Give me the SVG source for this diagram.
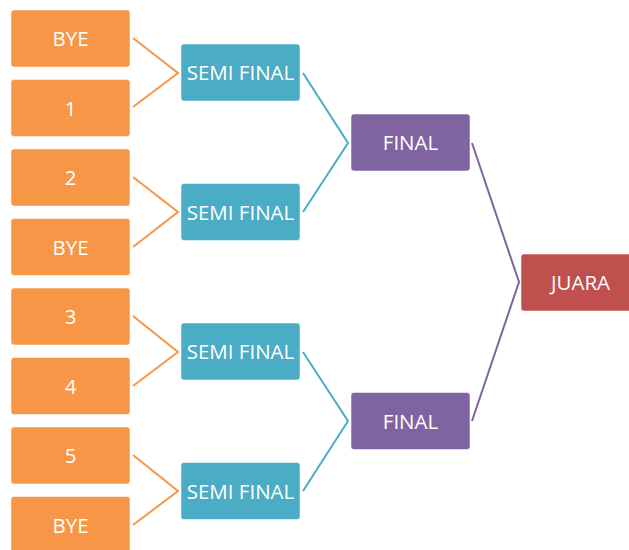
<svg xmlns="http://www.w3.org/2000/svg" width="629" height="550" viewBox="0 0 629 550">
<style>
.o{fill:#F79646}.b{fill:#4BACC6}.p{fill:#8064A2}.r{fill:#C0504D}
rect{stroke:#fff;stroke-opacity:0.5;stroke-width:1}
text{font-family:"Open Sans","Liberation Sans",sans-serif;font-size:20.5px;fill:#fff;text-anchor:middle}
.lo{stroke:#F79646}.lb{stroke:#4BACC6}.lp{stroke:#8064A2}
polyline{fill:none;stroke-width:2}
</style>
<rect width="629" height="550" fill="#fff" stroke="none"/>
<g id="connectors">
<polyline class="lo" points="133,38 178,73 133,107"/>
<polyline class="lo" points="133,177 178,212 133,247"/>
<polyline class="lo" points="133,316 178,352 133,386"/>
<polyline class="lo" points="133,455 178,491 133,525"/>
<polyline class="lb" points="303,73 348,143 303,212"/>
<polyline class="lb" points="303,352 348,421 303,491"/>
<polyline class="lp" points="472,143 519,282 472,421"/>
</g>
<g id="p1"><rect class="o" x="11" y="10" width="119" height="57" rx="3"/><text x="70.5" y="46">BYE</text></g>
<g id="p2"><rect class="o" x="11" y="79.5" width="119" height="57" rx="3"/><text x="70.5" y="115.5">1</text></g>
<g id="p3"><rect class="o" x="11" y="149" width="119" height="57" rx="3"/><text x="70.5" y="185">2</text></g>
<g id="p4"><rect class="o" x="11" y="218.5" width="119" height="57" rx="3"/><text x="70.5" y="254.5">BYE</text></g>
<g id="p5"><rect class="o" x="11" y="288" width="119" height="57" rx="3"/><text x="70.5" y="324">3</text></g>
<g id="p6"><rect class="o" x="11" y="357.5" width="119" height="57" rx="3"/><text x="70.5" y="393.5">4</text></g>
<g id="p7"><rect class="o" x="11" y="427" width="119" height="57" rx="3"/><text x="70.5" y="463">5</text></g>
<g id="p8"><rect class="o" x="11" y="496.5" width="119" height="57" rx="3"/><text x="70.5" y="532.5">BYE</text></g>
<g id="s1"><rect class="b" x="181" y="44" width="119" height="57" rx="3"/><text x="240.5" y="80">SEMI FINAL</text></g>
<g id="s2"><rect class="b" x="181" y="183.5" width="119" height="57" rx="3"/><text x="240.5" y="219.5">SEMI FINAL</text></g>
<g id="s3"><rect class="b" x="181" y="323" width="119" height="57" rx="3"/><text x="240.5" y="359">SEMI FINAL</text></g>
<g id="s4"><rect class="b" x="181" y="462.5" width="119" height="57" rx="3"/><text x="240.5" y="498.5">SEMI FINAL</text></g>
<g id="f1"><rect class="p" x="351" y="114" width="119" height="57" rx="3"/><text x="410.5" y="150">FINAL</text></g>
<g id="f2"><rect class="p" x="351" y="392.5" width="119" height="57" rx="3"/><text x="410.5" y="428.5">FINAL</text></g>
<g id="juara"><rect class="r" x="521" y="254" width="119" height="57" rx="3"/><text x="580.5" y="290">JUARA</text></g>
</svg>
